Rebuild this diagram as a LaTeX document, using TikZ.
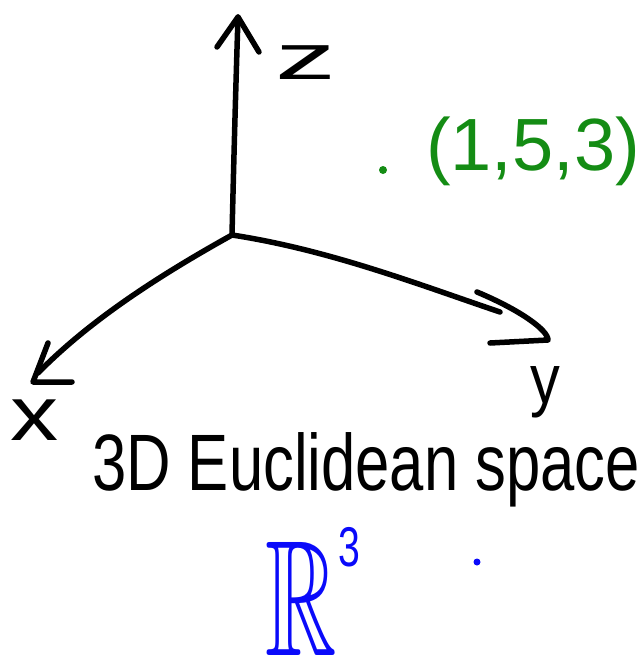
\documentclass[tikz,border=0pt]{standalone}
\usepackage{amssymb}
\usepackage{fontspec}
\setmainfont{Liberation Sans}
\definecolor{penGreen}{RGB}{20,140,20}
\definecolor{penBlue}{RGB}{10,10,250}
\begin{document}
\begin{tikzpicture}[x=1pt,y=-1pt,
  stroke/.style={line width=5.5pt, line cap=round, line join=round},
  hand/.style={inner sep=0pt, anchor=base west},
  dot/.style={circle, fill, inner sep=0pt, minimum size=#1}]
\useasboundingbox (0,0) rectangle (643,657);
% axes
\coordinate (O) at (232,235);
\coordinate (ztip) at (238,17);
\coordinate (zl) at (217,47);
\coordinate (zr) at (259,52);
\coordinate (xend) at (38,373);
\coordinate (xtip) at (33,382);
\coordinate (xa) at (48,343);
\coordinate (xb) at (72,382);
\coordinate (yend) at (500,312);
\coordinate (ytip) at (548,340);
\coordinate (ya) at (477,292);
\coordinate (yb) at (490,343);
\draw[stroke] (O) .. controls (234,150) and (236,80) .. (ztip);
\draw[stroke] (zl) -- (ztip) -- (zr);
\draw[stroke] (O) .. controls (160,275) and (90,320) .. (xend);
\draw[stroke] (xa) -- (xtip) -- (xb);
\draw[stroke] (O) .. controls (330,250) and (420,285) .. (yend);
\draw[stroke] (ya) .. controls (520,310) and (548,330) .. (ytip) -- (yb);
% axis labels
\node[hand, font=\fontsize{64}{70}\selectfont, xscale=1.9] (zlab) at (275,79) {z};
\node[hand, font=\fontsize{77}{80}\selectfont, xscale=1.25] (xlab) at (10,440) {x};
\node[hand, font=\fontsize{70}{80}\selectfont, xscale=0.85] (ylab) at (530,403) {y};
% point
\node[dot=8pt, penGreen] (p) at (383,170) {};
\node[hand, font=\fontsize{74}{80}\selectfont, text=penGreen] (plab) at (426,170) {(1,5,3)};
% title
\node[hand, font=\fontsize{80}{90}\selectfont, xscale=0.77] (title) at (92,490) {3D Euclidean space};
% R^3
\node[hand, font=\fontsize{110}{115}\selectfont, text=penBlue, xscale=0.9, yscale=1.5] (R) at (265,655) {$\mathbb{R}$};
\node[hand, font=\fontsize{56}{60}\selectfont, text=penBlue, xscale=0.7] (cube) at (338,566) {3};
\node[dot=7pt, penBlue] (q) at (477,562) {};
\end{tikzpicture}
\end{document}
